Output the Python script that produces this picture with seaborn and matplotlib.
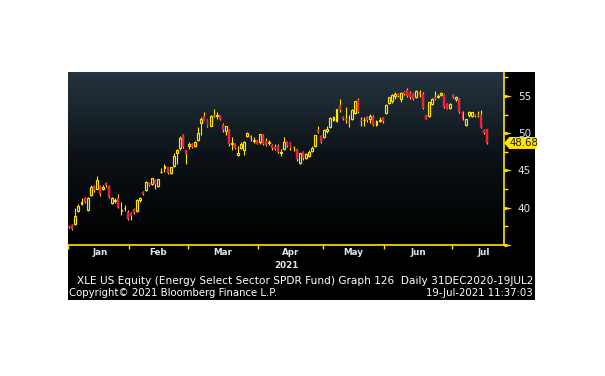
import numpy as np
import pandas as pd
import seaborn as sns
import matplotlib.pyplot as plt
from matplotlib.colors import LinearSegmentedColormap
from matplotlib.path import Path
from matplotlib.patches import Polygon, Rectangle
import matplotlib.transforms as mtransforms

# 数据 (从图上读取的 XLE 日K线)
holidays = ["2021-01-01", "2021-01-18", "2021-02-15", "2021-04-02", "2021-05-31", "2021-07-05"]
month_labels = ["Jan", "Feb", "Mar", "Apr", "May", "Jun", "Jul"]
jul_trading_days = 21

opens = [37.55, 37.7, 37.75, 39.6, 40.5, 41.3, 39.75, 41.75, 42.95, 42.55,
         42.9, 42.55, 43.3, 42.85, 40.65, 40.9, 41.3, 39.55, 39.9, 39.45,
         39.25, 39.85, 39.5, 41.1, 42.15, 42.4, 43.3, 43.15, 43.75, 42.85,
         44.8, 45.3, 45.4, 44.6, 45.6, 47.4, 47.95, 49.8, 47.7,
         48.3, 48.6, 48.3, 49.1, 51.3, 52.3, 51.7, 51.0, 52.5, 52.35,
         52.4, 51.05, 50.3, 50.4, 48.55, 48.6, 47.1, 48.05, 47.75, 49.6,
         49.6, 49.0, 49.05,
         48.75, 49.8, 48.95, 48.7, 48.4, 48.2, 48.3, 47.35, 47.85, 48.75,
         48.75, 48.2, 47.85, 46.0, 47.5, 46.7, 47.0, 47.6, 48.3, 50.4, 49.65,
         49.5, 50.25, 50.85, 51.7, 51.6, 53.8, 52.2, 51.95, 51.5, 51.95,
         52.75, 54.4, 51.8, 51.7, 52.2, 51.95, 52.2, 51.05, 51.6, 52.05,
         52.75, 54.1, 54.25, 55.0, 55.3, 54.6, 55.55, 55.85, 55.45, 55.3,
         54.85, 55.55, 55.3, 52.4, 52.3, 53.95, 54.85, 54.9, 55.05, 55.15,
         53.95, 53.4,
         55.15, 54.55, 54.6, 52.9, 51.15, 52.4, 52.3, 52.5, 52.45, 52.5,
         50.4, 50.5]
highs = [37.6, 37.75, 39.95, 40.5, 41.3, 41.4, 41.4, 43.05, 43.0, 44.25,
         43.0, 43.0, 43.4, 43.1, 41.5, 41.3, 41.8, 40.7, 40.3, 39.7,
         39.4, 40.0, 41.2, 41.45, 42.2, 43.6, 43.4, 44.0, 43.8, 43.9,
         45.3, 45.85, 45.5, 45.5, 47.3, 47.9, 49.6, 49.9, 47.75,
         48.8, 48.7, 49.0, 50.8, 52.1, 52.8, 51.9, 52.5, 53.2, 52.8,
         52.5, 51.3, 51.0, 50.5, 49.5, 48.7, 48.3, 48.8, 49.0, 50.2,
         49.7, 49.5, 49.1,
         49.9, 49.9, 49.4, 49.1, 48.6, 48.5, 48.6, 47.9, 49.5, 48.9,
         48.8, 48.3, 47.9, 47.4, 47.6, 47.4, 47.7, 48.3, 49.8, 50.9, 49.8,
         50.5, 50.9, 52.1, 52.3, 53.3, 54.6, 52.3, 53.5, 52.4, 53.2,
         54.3, 54.7, 52.2, 52.2, 52.3, 52.55, 52.4, 51.7, 52.2, 52.1,
         53.9, 54.9, 55.2, 55.5, 55.4, 55.5, 55.7, 56.0, 55.6, 55.4,
         55.8, 55.8, 55.5, 52.5, 54.2, 54.7, 55.7, 55.2, 55.5, 55.2,
         54.0, 54.1,
         55.3, 55.0, 54.7, 53.0, 51.9, 53.0, 52.9, 52.6, 53.0, 53.1,
         50.5, 50.6]
lows = [37.3, 37.0, 37.7, 39.4, 40.3, 40.6, 39.6, 41.6, 42.1, 42.5,
        41.6, 42.4, 42.8, 41.3, 40.5, 40.6, 40.0, 39.0, 39.6, 38.4,
        38.3, 39.1, 39.4, 40.7, 41.7, 42.3, 42.9, 43.0, 42.5, 42.8,
        44.6, 44.8, 44.5, 44.5, 45.5, 45.8, 47.8, 48.0, 45.9,
        47.9, 48.0, 48.2, 49.0, 49.7, 51.7, 50.8, 50.9, 52.1, 51.9,
        51.7, 50.2, 49.8, 48.3, 47.8, 47.9, 46.9, 47.9, 47.1, 49.5,
        49.0, 48.7, 48.5,
        48.6, 48.4, 48.3, 48.4, 47.8, 47.7, 47.3, 47.0, 47.7, 48.1,
        47.8, 47.6, 46.3, 45.8, 46.4, 46.6, 46.8, 47.5, 48.2, 50.0, 48.7,
        49.4, 50.0, 50.7, 51.6, 51.5, 52.9, 51.7, 51.4, 50.85, 51.8,
        52.6, 52.7, 51.0, 51.0, 51.5, 51.3, 51.0, 50.9, 51.5, 51.4,
        52.6, 53.9, 54.1, 54.6, 54.9, 54.15, 55.1, 54.8, 54.6, 54.5,
        54.7, 54.9, 53.2, 51.9, 52.2, 53.8, 54.5, 54.7, 55.0, 53.4,
        53.2, 53.3,
        54.7, 54.3, 52.7, 51.8, 51.0, 52.2, 52.2, 52.2, 52.1, 50.7,
        49.9, 48.5]
closes = [37.35, 37.2, 38.95, 40.25, 40.8, 40.7, 41.35, 42.8, 42.35, 43.7,
          41.85, 42.8, 43.0, 41.5, 41.35, 41.0, 40.05, 39.65, 40.0, 38.55,
          38.85, 39.25, 41.05, 41.35, 41.8, 43.5, 43.1, 43.95, 43.15, 43.8,
          44.85, 45.6, 44.6, 45.4, 46.9, 47.7, 49.3, 48.15, 47.2,
          48.6, 48.15, 48.85, 50.0, 51.95, 51.8, 51.0, 52.3, 52.3, 52.45,
          51.9, 50.4, 50.9, 48.5, 48.65, 48.05, 47.4, 48.6, 48.85, 50.05,
          49.3, 49.1, 48.6,
          49.85, 48.5, 48.4, 48.85, 47.95, 47.9, 47.45, 47.45, 48.75, 48.3,
          47.95, 47.95, 46.55, 47.3, 46.6, 47.15, 47.5, 48.05, 49.7, 50.2, 48.85,
          50.4, 50.6, 52.0, 52.15, 53.2, 53.05, 51.9, 51.8, 51.3, 53.05,
          54.25, 52.8, 51.65, 51.75, 51.75, 52.3, 51.15, 51.6, 51.8, 51.6,
          53.8, 54.85, 55.15, 55.2, 55.0, 55.4, 55.3, 55.0, 54.85, 54.6,
          55.7, 55.1, 53.4, 51.95, 54.15, 54.6, 54.6, 55.0, 55.4, 53.5,
          53.3, 53.95,
          54.85, 54.85, 52.85, 51.95, 51.85, 52.9, 52.85, 52.35, 52.3, 50.85,
          50.05, 48.68]

dates = pd.bdate_range("2020-12-31", "2021-07-19", freq="C", holidays=holidays)
df = pd.DataFrame({"date": dates, "open": opens, "high": highs, "low": lows, "close": closes})
df["x"] = np.arange(len(df))
df["up"] = df["close"] >= df["open"]

YELLOW = "#ffe500"
RED = "#ee2040"
TXT = "#dde6f0"

sns.set_theme(style="dark")
plt.rcParams["font.family"] = ["DejaVu Sans"]

fig = plt.figure(figsize=(6.05, 3.76), dpi=100)
fig.patch.set_facecolor("white")
# 黑色底板
fig.add_artist(Rectangle((68 / 605, 1 - 300 / 376), 467 / 605, 228 / 376,
                         transform=fig.transFigure, facecolor="black", edgecolor="none", zorder=0))
ax = fig.add_axes([68 / 605, 1 - 245 / 376, 436 / 605, 173 / 376])

xmin, xmax = -0.4, 141.5
ymin, ymax = 35.0, 58.2
ax.set_xlim(xmin, xmax)
ax.set_ylim(ymin, ymax)

# 背景渐变 (上灰蓝, 下黑)
cmap = LinearSegmentedColormap.from_list("bg", ["#000000", "#0b1115", "#263440"])
grad = np.linspace(1, 0, 256).reshape(-1, 1)
ax.imshow(grad, cmap=cmap, aspect="auto", extent=[xmin, xmax, ymin, ymax],
          origin="upper", zorder=0)
ax.grid(False)

# K线: 影线 + 实体
sns.despine(ax=ax, left=True, top=True, right=False, bottom=False)
ax.vlines(df["x"], df["low"], df["high"], color=YELLOW, linewidth=0.8, zorder=2)
w = 0.62
up = df[df["up"]]
dn = df[~df["up"]]
ax.bar(up["x"], up["close"] - up["open"], bottom=up["open"], width=w,
       facecolor="#141d24", edgecolor=YELLOW, linewidth=0.85, zorder=3)
ax.bar(dn["x"], dn["open"] - dn["close"], bottom=dn["close"], width=w,
       facecolor=RED, edgecolor=RED, linewidth=0.3, zorder=3)

# x 轴: 月份
d21 = df[df["date"].dt.year == 2021]
first_idx = d21.groupby(d21["date"].dt.month)["x"].min().sort_index().values
bounds = list(first_idx[1:] - 0.5)
starts = [first_idx[0] - 0.5] + bounds
ends = bounds + [first_idx[-1] - 0.5 + jul_trading_days]
mids = [(a + b) / 2 for a, b in zip(starts, ends)]
ax.set_xticks([xmin] + bounds)
ax.set_xticklabels([])
ax.set_xticks(mids, minor=True)
ax.set_xticklabels(month_labels, minor=True)
ax.tick_params(axis="x", which="major", direction="out", length=3, width=1, color=YELLOW, bottom=True)
ax.tick_params(axis="x", which="minor", length=0, pad=2, labelsize=6.3, labelcolor=TXT)
for t in ax.get_xticklabels(minor=True):
    t.set_fontweight("bold")

# y 轴在右侧
ax.yaxis.tick_right()
ax.set_yticks([35, 40, 45, 50, 55])
ax.set_yticklabels(["", "40", "45", "50", "55"])
ax.set_yticks([37.5, 42.5, 47.5, 52.5, 57.5], minor=True)
ax.tick_params(axis="y", which="major", length=0, pad=10, labelsize=7.5, labelcolor=TXT, right=True, left=False)
ax.tick_params(axis="y", which="minor", direction="out", length=3, width=1, color=YELLOW, right=True, left=False)
for s in ["right", "bottom"]:
    ax.spines[s].set_color(YELLOW)
    ax.spines[s].set_linewidth(1.2)

# 主刻度三角形
tri = Path([(0, -0.55), (0, 0.55), (2.4, 0), (0, -0.55)],
           [Path.MOVETO, Path.LINETO, Path.LINETO, Path.CLOSEPOLY])
blend = mtransforms.blended_transform_factory(ax.transAxes, ax.transData)
ax.plot([1.0] * 5, [35, 40, 45, 50, 55], linestyle="none", marker=tri, markersize=11,
        color=YELLOW, markeredgewidth=0, transform=blend, clip_on=False, zorder=5)

# 最新价标签
last = df["close"].iloc[-1]
h = 0.8
box = Polygon([(1.0, last), (1.012, last + h), (1.075, last + h), (1.075, last - h), (1.012, last - h)],
              closed=True, transform=blend, facecolor=YELLOW, edgecolor="none", clip_on=False, zorder=6)
ax.add_patch(box)
ax.text(1.045, last - 0.05, f"{last:.2f}", transform=blend, ha="center", va="center",
        fontsize=7.3, color="#1a1a1a", zorder=7, clip_on=False)

# 文本
fig.text(286 / 605, 1 - 266 / 376, "2021", ha="center", va="center", fontsize=6.3,
         color=TXT, fontweight="bold")
fig.text(533 / 605, 1 - 281.5 / 376,
         "XLE US Equity (Energy Select Sector SPDR Fund) Graph 126  Daily 31DEC2020-19JUL2",
         ha="right", va="center", fontsize=7.55, color="white")
fig.text(69 / 605, 1 - 293.5 / 376, "Copyright\u00a9 2021 Bloomberg Finance L.P.",
         ha="left", va="center", fontsize=7.3, color="white")
fig.text(533 / 605, 1 - 293.5 / 376, "19-Jul-2021 11:37:03",
         ha="right", va="center", fontsize=7.3, color="white")

fig.savefig("out.png", dpi=100, facecolor=fig.get_facecolor())
